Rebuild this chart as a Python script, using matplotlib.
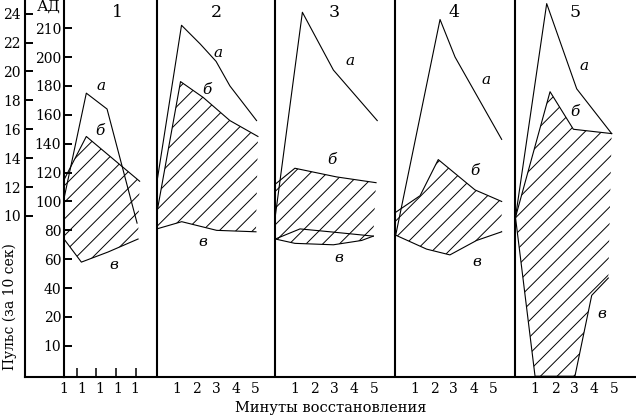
import numpy as np
import matplotlib.pyplot as plt

plt.rcParams['font.family'] = ['DejaVu Serif']
plt.rcParams['hatch.linewidth'] = 0.7

# panel titles and minute labels under each panel
panel_names = ['1', '2', '3', '4', '5']
minute_labels = [['1', '1', '1', '1', '1'],
                 ['1', '2', '3', '4', '5'],
                 ['1', '2', '3', '4', '5'],
                 ['1', '2', '3', '4', '5'],
                 ['1', '2', '3', '4', '5']]

# АД scale: evenly spaced tick labels
ad_ticks = [0, 20, 40, 60, 80, 100, 120, 140, 160, 180, 200, 220]
ad_labels = ['10', '20', '40', '60', '80', '100', '120', '140', '160', '180', '200', '210']
pulse_ticks = [10, 12, 14, 16, 18, 20, 22, 24]

# curve а (systolic), per panel: minutes after load and value
a_minutes = [[0, 1.13, 2.18, 3.7],
             [0, 1.25, 2.2, 3.0, 3.7, 5.05],
             [0, 1.37, 2.94, 5.16],
             [0, 2.3, 3.06, 5.42],
             [0, 1.58, 3.1, 4.87]]
a_values = [[102, 175, 164, 85],
            [113, 222, 209, 197, 180, 156],
            [90, 231, 191, 156],
            [73, 226, 200, 143],
            [89, 237, 178, 147]]

# curve б (pulse)
b_minutes = [[0, 1.13, 3.83],
             [0, 1.2, 2.35, 3.7, 5.12],
             [0, 0.99, 3.1, 5.1],
             [0, 1.29, 2.21, 4.07, 5.42],
             [0, 1.75, 2.93, 4.87]]
b_values = [[115, 145, 114],
            [92, 183, 172, 156, 145],
            [112, 123, 117, 113],
            [92, 104, 129, 108, 100],
            [89, 176, 150, 147]]

# curve в (diastolic)
v_minutes = [[0, 0.88, 2.23, 3.75],
             [0, 1.26, 3.03, 5.02],
             [0, 0.99, 2.94, 4.37, 4.96],
             [0, 1.62, 2.8, 4.15, 5.42],
             [0, 0.99, 3.01, 3.86, 4.7]]
v_values = [[74, 58, 65, 74],
            [81, 86, 80, 79],
            [74, 71, 70, 73, 76],
            [77, 67, 63, 73, 79],
            [89, -21, -21, 35, 47]]

# second (upper) в line in panel 3
p3_v_upper_minutes = [0, 1.25, 2.77, 4.96]
p3_v_upper_values = [74, 81, 79, 76]

# layout
offsets = [0, 4.7, 10.7, 16.74, 22.86]
p1_label_pos = [0, 0.91, 1.82, 2.73, 3.6]
p1_tick_pos = [0.66, 1.62, 2.63, 3.65]
a_lab = [(1.9, 180), (3.1, 203), (3.8, 197), (4.65, 184), (3.45, 194)]
b_lab = [(1.8, 149), (2.55, 177), (2.85, 129), (4.05, 121), (3.0, 162)]
v_lab = [(2.5, 56), (2.35, 72), (3.2, 61), (4.15, 58), (4.36, 22)]

fig = plt.figure(figsize=(6.36, 4.18), dpi=100)
ax = fig.add_axes([64 / 636, 41.5 / 418, 572 / 636, 376.5 / 418])
ax.set_xlim(0, 572 / 19.75)
ax.set_ylim(-21.2, 239.5)

lw_line = 0.8
for i in range(5):
    off = offsets[i]
    ax_ = np.array(a_minutes[i]) + off
    bx = np.array(b_minutes[i]) + off
    vx = np.array(v_minutes[i]) + off
    # hatched zone between б and в
    px = np.concatenate([bx, vx[::-1]])
    py = np.concatenate([b_values[i], v_values[i][::-1]])
    ax.fill(px, py, facecolor='none', edgecolor='black', hatch='//', linewidth=0)
    ax.plot(ax_, a_values[i], color='black', lw=lw_line)
    ax.plot(bx, b_values[i], color='black', lw=lw_line)
    ax.plot(vx, v_values[i], color='black', lw=lw_line)
    ax.text(a_lab[i][0] + off, a_lab[i][1], 'а', style='italic', fontsize=11, ha='center', va='center')
    ax.text(b_lab[i][0] + off, b_lab[i][1], 'б', style='italic', fontsize=11, ha='center', va='center')
    ax.text(v_lab[i][0] + off, v_lab[i][1], 'в', style='italic', fontsize=11, ha='center', va='center')
    title_x = off + (2.73 if i == 0 else 3.0)
    ax.text(title_x, 231, panel_names[i], fontsize=12.5, ha='center', va='center')
    if i > 0:
        ax.axvline(off, color='black', lw=1.5)

ax.plot(np.array(p3_v_upper_minutes) + offsets[2], p3_v_upper_values, color='black', lw=lw_line)

# x ticks: labels (major, no mark) and marks (minor)
major_pos = list(p1_label_pos)
minor_pos = list(p1_tick_pos)
labels = list(minute_labels[0])
for i in range(1, 5):
    major_pos += [offsets[i] + m for m in range(1, 6)]
    minor_pos += [offsets[i] + m for m in range(1, 6)]
    labels += minute_labels[i]
ax.set_xticks(major_pos)
ax.set_xticklabels(labels)
ax.set_xticks(minor_pos, minor=True)
ax.tick_params(axis='x', which='major', length=0, pad=4, labelsize=10)
ax.tick_params(axis='x', which='minor', direction='in', length=6.5, width=1.1)

ax.set_yticks(ad_ticks)
ax.set_yticklabels(ad_labels)
ax.tick_params(axis='y', direction='in', length=5.5, width=1.4, pad=2, labelsize=10)

for s in ['top', 'right']:
    ax.spines[s].set_visible(False)
for s in ['left', 'bottom']:
    ax.spines[s].set_linewidth(1.5)

loc = -39 / 572
sec = ax.secondary_yaxis(loc, functions=(lambda v: (v + 10) / 10, lambda p: p * 10 - 10))
sec.set_yticks(pulse_ticks)
sec.tick_params(direction='in', length=5.5, width=1.4, pad=3, labelsize=10)
sec.spines['left'].set_linewidth(1.5)
ax.plot([loc, 0], [0, 0], transform=ax.transAxes, color='black', lw=1.5, clip_on=False)

fig.text(49 / 636, 1 - 7 / 418, 'АД', fontsize=11, ha='center', va='center')
fig.text(10 / 636, 1 - 307 / 418, 'Пульс (за 10 сек)', fontsize=10, rotation=90, ha='center', va='center')
fig.text(331 / 636, 1 - 408 / 418, 'Минуты восстановления', fontsize=10.5, ha='center', va='center')

fig.savefig('out.png', dpi=100)
